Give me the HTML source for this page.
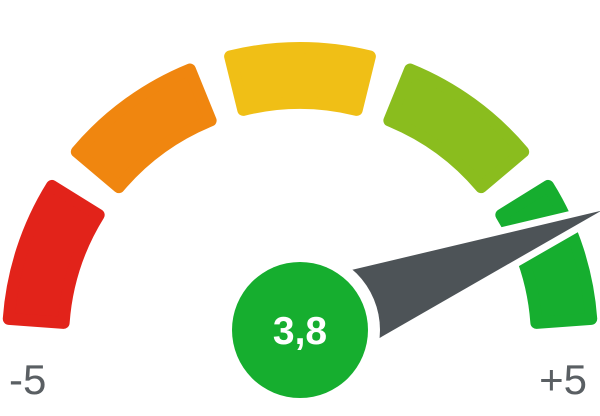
<!DOCTYPE html>
<html><head><meta charset="utf-8"><style>
html,body{margin:0;padding:0;background:#fff;}
svg{display:block;font-family:"Liberation Sans",sans-serif;}
</style></head><body>
<svg id="g" width="600" height="416" viewBox="0 0 600 416"></svg>
<script>
const bandColors=["#e2231a","#f0860f","#f0bf16","#8abd1e","#16ae2f"];
const bandNames=["band-red","band-orange","band-yellow","band-light-green","band-green"];
const value=[3.8];
const valueLabel=["3,8"];
const scaleMin=[-5];
const scaleMax=[5];
const tickLabels=["-5","+5"];

const NS="http://www.w3.org/2000/svg";
const svg=document.getElementById('g');
const cx=300,cy=340,R=298,r=231;
function pt(rad,deg){const a=deg*Math.PI/180;return [cx-rad*Math.cos(a),cy-rad*Math.sin(a)];}
function ang(v){return (v-scaleMin[0])/(scaleMax[0]-scaleMin[0])*180;}
const n=bandColors.length, span=180/n, gap=6, inset=6;
for(let i=0;i<n;i++){
  const a0=i*span+gap/2, a1=(i+1)*span-gap/2;
  const Ro=R-inset, Ri=r+inset;
  const d0=a0+inset/R*180/Math.PI, d1=a1-inset/R*180/Math.PI;
  const p1=pt(Ro,d0),p2=pt(Ro,d1),p3=pt(Ri,d1),p4=pt(Ri,d0);
  const p=document.createElementNS(NS,'path');
  p.setAttribute('d',`M${p1} A${Ro},${Ro} 0 0 1 ${p2} L${p3} A${Ri},${Ri} 0 0 0 ${p4} Z`);
  p.setAttribute('fill',bandColors[i]);p.setAttribute('stroke',bandColors[i]);
  p.setAttribute('stroke-width',inset*2);p.setAttribute('stroke-linejoin','round');
  
  
  svg.appendChild(p);
}
// needle
const px=300,py=330,L=324,hw=47;
const na=ang(value[0])*Math.PI/180;
const ux=-Math.cos(na),uy=-Math.sin(na);
const tip=[px+L*ux,py+L*uy];
const b1=[px-hw*uy,py+hw*ux],b2=[px+hw*uy,py-hw*ux];
const halo=document.createElementNS(NS,'polygon');
halo.setAttribute('points',`${tip} ${b1} ${b2}`);
halo.setAttribute('fill','#fff');halo.setAttribute('stroke','#fff');halo.setAttribute('stroke-width','14');halo.setAttribute('stroke-linejoin','round');


svg.appendChild(halo);
const needle=document.createElementNS(NS,'polygon');
needle.setAttribute('points',`${tip} ${b1} ${b2}`);
needle.setAttribute('fill','#4d5357');


svg.appendChild(needle);
const ring=document.createElementNS(NS,'circle');
ring.setAttribute('cx',px);ring.setAttribute('cy',py);ring.setAttribute('r',80);
ring.setAttribute('fill','#fff');


svg.appendChild(ring);
const c=document.createElementNS(NS,'circle');
c.setAttribute('cx',px);c.setAttribute('cy',py);c.setAttribute('r',68);
c.setAttribute('fill','#16ae2f');


svg.appendChild(c);
const vt=document.createElementNS(NS,'text');
vt.setAttribute('x',px);vt.setAttribute('y',py+14);vt.setAttribute('text-anchor','middle');
vt.setAttribute('font-size','39');vt.setAttribute('font-weight','bold');vt.setAttribute('fill','#fff');
vt.textContent=valueLabel[0];


svg.appendChild(vt);
const t1=document.createElementNS(NS,'text');
t1.setAttribute('x',9);t1.setAttribute('y',394);t1.setAttribute('font-size','42');t1.setAttribute('fill','#5a5f63');
t1.textContent=tickLabels[0];


svg.appendChild(t1);
const t2=document.createElementNS(NS,'text');
t2.setAttribute('x',587);t2.setAttribute('y',394);t2.setAttribute('font-size','42');t2.setAttribute('fill','#5a5f63');t2.setAttribute('text-anchor','end');
t2.textContent=tickLabels[1];


svg.appendChild(t2);
</script>
</body></html>
